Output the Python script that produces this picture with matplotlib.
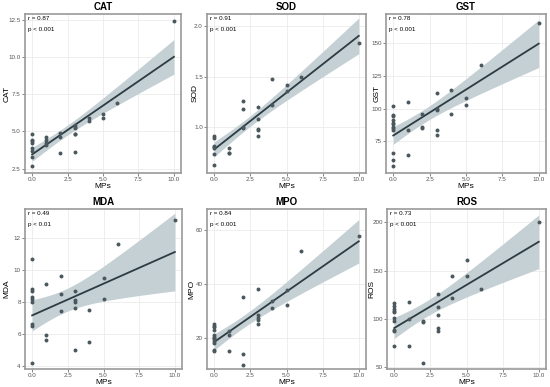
import numpy as np
import matplotlib
matplotlib.use("Agg")
import matplotlib.pyplot as plt

plt.rcParams['font.family'] = ['Liberation Sans', 'DejaVu Sans']

# MPs exposure level for each point, per panel
cat_x = [0]*8 + [1]*4 + [2]*3 + [3]*6 + [4]*2 + [5]*2 + [6] + [10]
cat_y = [4.8, 4.45, 4.35, 4.2, 3.85, 3.7, 3.3, 2.7,
         4.65, 4.4, 4.2, 4.1,
         4.9, 4.6, 3.55,
         5.4, 5.3, 5.2, 4.8, 4.8, 3.6,
         5.9, 5.7,
         6.2, 5.9,
         6.9,
         12.4]

sod_x = [0]*7 + [1]*3 + [2]*4 + [3]*5 + [4]*2 + [5]*2 + [6] + [10]
sod_y = [0.92, 0.90, 0.82, 0.81, 0.80, 0.74, 0.63,
         0.80, 0.75, 0.75,
         1.26, 1.18, 1.00, 0.99,
         1.20, 1.08, 0.98, 0.97, 0.92,
         1.48, 1.22,
         1.42, 1.36,
         1.50,
         1.83]

gst_x = [0]*12 + [1]*3 + [2]*3 + [3]*5 + [4]*2 + [5]*2 + [6] + [10]
gst_y = [102, 95, 94, 91, 89, 88, 86, 85, 84, 66, 61, 56,
         105, 84, 65,
         96, 86, 85,
         112, 100, 99, 84, 80,
         114, 96,
         108, 103,
         133,
         165]

mda_x = [0]*9 + [1]*3 + [2]*3 + [3]*5 + [4]*2 + [5]*2 + [6] + [10]
mda_y = [10.7, 8.8, 8.7, 8.3, 8.2, 8.0, 6.6, 6.5, 4.2,
         9.1, 5.9, 5.6,
         9.6, 8.5, 7.4,
         8.7, 8.1, 8.0, 7.6, 5.0,
         7.5, 5.5,
         9.5, 8.2,
         11.6,
         13.1]

mpo_x = [0]*12 + [1]*3 + [2]*3 + [3]*5 + [4]*2 + [5]*2 + [6] + [10]
mpo_y = [25, 24.5, 24, 23, 21, 20.5, 20, 19.5, 19, 18, 15.5, 15,
         22.5, 21, 15,
         35, 14, 10,
         38, 28.5, 27.5, 26.5, 25,
         33.5, 31,
         37.5, 32,
         52,
         57.5]

ros_x = [0]*10 + [1]*3 + [2]*3 + [3]*5 + [4]*2 + [5]*2 + [6] + [10]
ros_y = [116, 113, 110, 108, 107, 101, 98, 88, 87, 72,
         117, 100, 72,
         98, 97, 54,
         126, 112, 104, 91, 87,
         145, 122,
         161, 144,
         131,
         201]

names = ["CAT", "SOD", "GST", "MDA", "MPO", "ROS"]
r_text = ["r = 0.87", "r = 0.91", "r = 0.78", "r = 0.49", "r = 0.84", "r = 0.73"]
p_text = ["p < 0.001", "p < 0.001", "p < 0.001", "p < 0.01", "p < 0.001", "p < 0.001"]
yticks = [[2.5, 5.0, 7.5, 10.0, 12.5], [1.0, 1.5, 2.0], [75, 100, 125, 150],
          [4, 6, 8, 10, 12], [20, 40, 60], [50, 100, 150, 200]]
ylims = [(2.2, 12.9), (0.55, 2.12), (51, 172), (3.8, 13.8), (8.5, 67.6), (48, 214)]
xs = [cat_x, sod_x, gst_x, mda_x, mpo_x, ros_x]
ys = [cat_y, sod_y, gst_y, mda_y, mpo_y, ros_y]

W, H = 550, 387
# axes boxes in pixels: left, top, right, bottom
boxes = [(25, 14, 181, 173), (207, 14, 366, 173), (386, 14, 546, 173),
         (25, 209, 182, 369), (207, 209, 366, 369), (387, 209, 546, 369)]
ylabel_px = [7, 195, 377, 7, 192, 372]

pt_col = "#4a585e"
line_col = "#2c3c42"
band_col = "#c5d0d5"

fig = plt.figure(figsize=(5.5, 3.87), dpi=100)

for i in range(6):
    l, t, r, b = boxes[i]
    ax = fig.add_axes([l / W, 1 - b / H, (r - l) / W, (b - t) / H])
    x = np.array(xs[i], dtype=float)
    y = np.array(ys[i], dtype=float)

    # linear fit with 95% confidence band
    n = len(x)
    slope, inter = np.polyfit(x, y, 1)
    resid = y - (slope * x + inter)
    s = np.sqrt(np.sum(resid ** 2) / (n - 2))
    xx = np.linspace(0, 10, 100)
    yy = slope * xx + inter
    se = s * np.sqrt(1 / n + (xx - x.mean()) ** 2 / np.sum((x - x.mean()) ** 2))
    tval = 2.05
    ax.fill_between(xx, yy - tval * se, yy + tval * se, color=band_col, lw=0, zorder=2)
    ax.plot(xx, yy, color=line_col, lw=1.3, zorder=3)
    ax.scatter(x, y, s=8, color=pt_col, zorder=4, lw=0)

    ax.set_xlim(-0.5, 10.5)
    ax.set_ylim(*ylims[i])
    ax.set_xticks([0, 2.5, 5, 7.5, 10])
    ax.set_xticklabels(["0.0", "2.5", "5.0", "7.5", "10.0"])
    ax.set_yticks(yticks[i])
    if i == 0:
        ax.set_yticklabels(["2.5", "5.0", "7.5", "10.0", "12.5"])
    elif i == 1:
        ax.set_yticklabels(["1.0", "1.5", "2.0"])
    ax.grid(True, color="#ebebeb", lw=0.6, zorder=0)
    ax.set_axisbelow(True)
    ax.tick_params(labelsize=4.5, colors="#555555", length=2, width=0.5, pad=1)
    for sp in ax.spines.values():
        sp.set_color("#999999")
        sp.set_linewidth(1.2)
    ax.set_title(names[i], fontsize=7, fontweight="bold", pad=3)
    ax.set_xlabel("MPs", fontsize=6)
    ax.set_ylabel(names[i], fontsize=6)
    ax.xaxis.set_label_coords(0.5, -13.0 / (b - t))
    ax.yaxis.set_label_coords((ylabel_px[i] - l) / (r - l), 0.5)
    ax.xaxis.label.set_va("center")
    ax.yaxis.label.set_va("center")
    ax.text(0.02, 0.985, r_text[i], transform=ax.transAxes, fontsize=4.5, va="top", ha="left")
    ax.text(0.02, 0.92, p_text[i], transform=ax.transAxes, fontsize=4.5, va="top", ha="left")

fig.savefig("out.png", dpi=100)
